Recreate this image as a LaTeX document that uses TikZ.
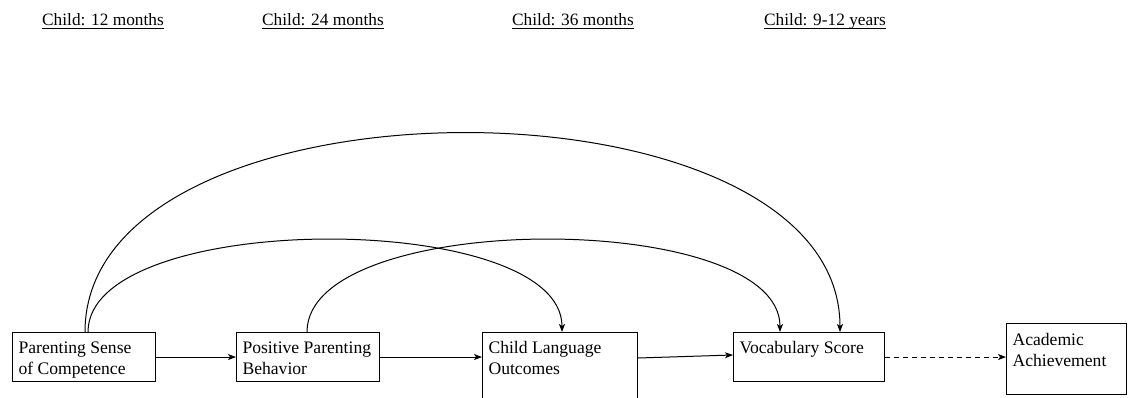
\documentclass[tikz,border=0pt]{standalone}
\usepackage{fontspec}
\setmainfont{Liberation Serif}
\usetikzlibrary{arrows.meta,calc}
\newcommand\bxt[4]{\parbox[t][#1pt][t]{#2pt}{\raggedright\leftskip=6pt\rule{0pt}{#3pt}#4\par}}
\newcommand\ulx[1]{\setbox0\hbox{#1}\rlap{\rule[-3.6pt]{\wd0}{0.9pt}}\box0}
\tikzset{
  box/.style={draw, line width=1.1pt, inner sep=0pt, anchor=north west},
  hdr/.style={anchor=base west, inner sep=0pt, font=\fontsize{17.3}{21}\selectfont},
  conn/.style={line width=1pt, -{Stealth[length=8pt,width=6pt,inset=2pt]}},
}
\begin{document}
\begin{tikzpicture}[x=1pt,y=-1pt,font=\fontsize{17.6}{21}\selectfont]
\useasboundingbox (0,0) rectangle (1128,398);
\node[hdr] (h1) at (42,25.5) {\ulx{Child: 12 months}};
\node[hdr] (h2) at (262,25.5) {\ulx{Child: 24 months}};
\node[hdr] (h3) at (512,25.5) {\ulx{Child: 36 months}};
\node[hdr] (h4) at (764,25.5) {\ulx{Child: 9-12 years}};

\node[box] (b1) at (12,332) {\bxt{49}{143}{21}{Parenting Sense\\of Competence}};
\node[box] (b2) at (236,332) {\bxt{49}{143}{21}{Positive Parenting\\Behavior}};
\node[box] (b3) at (482,332) {\bxt{72}{155}{21}{Child Language\\Outcomes}};
\node[box] (b4) at (733,332) {\bxt{49}{151}{21}{Vocabulary Score}};
\node[box] (b5) at (1006,323) {\bxt{71}{120}{22}{Academic\\Achievement}};

\draw[conn] (b1.east) -- (b2.west);
\draw[conn] (b2.east) -- (b3.west |- b2.east);
\draw[conn] ($(b3.north east)+(0,26)$) -- ($(b4.north west)+(0,23)$);
\draw[conn, dashed, dash pattern=on 5pt off 4pt] (b4.east) -- (b5.west |- b4.east);

\draw[conn] ($(b1.north west)+(73,0)$) .. controls +(0,-265) and +(0,-265) .. ($(b4.north west)+(107,0)$);
\draw[conn] ($(b1.north west)+(76,0)$) .. controls +(0,-123) and +(0,-123) .. ($(b3.north west)+(80,0)$);
\draw[conn] ($(b2.north west)+(71,0)$) .. controls +(0,-123) and +(0,-123) .. ($(b4.north west)+(47,0)$);
\end{tikzpicture}
\end{document}
